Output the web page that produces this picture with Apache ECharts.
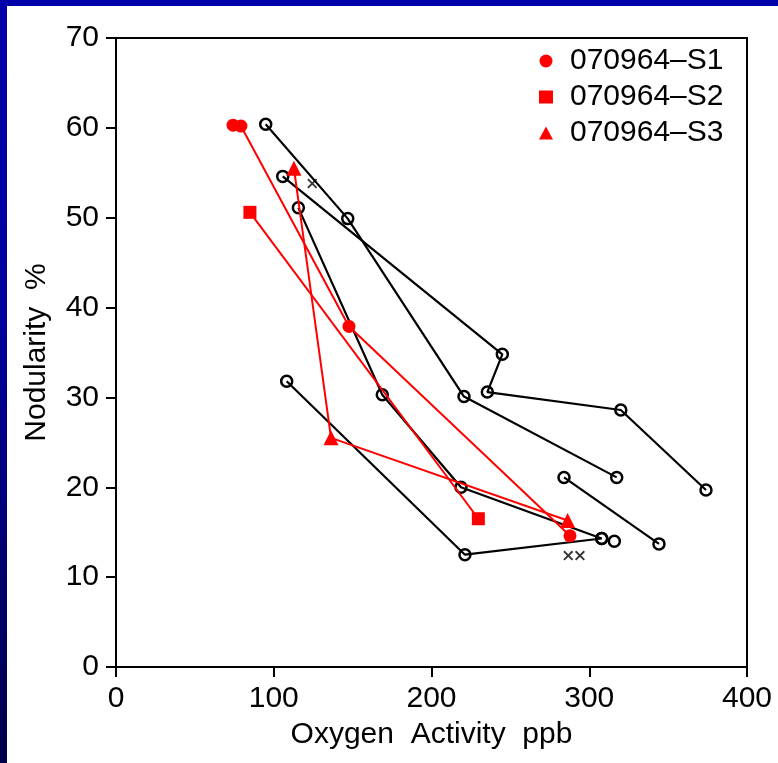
<!DOCTYPE html>
<html>
<head>
<meta charset="utf-8">
<script src="https://cdn.jsdelivr.net/npm/echarts@6/dist/echarts.min.js"></script>
<style>
  html, body { margin: 0; padding: 0; }
  body {
    width: 778px; height: 763px; overflow: hidden; position: relative;
    background: linear-gradient(to bottom, #0000aa 0%, #0000a0 40%, #00004a 100%);
  }
  .top-band { position: absolute; left: 0; top: 0; width: 778px; height: 6px; background: #0000aa; }
  #chart { position: absolute; left: 7px; top: 6px; width: 771px; height: 757px; background: #ffffff; }
</style>
</head>
<body>
<div class="top-band"></div>
<div id="chart"></div>
<script>
// red samples
const s1 = [[74.2, 60.3], [79.2, 60.2], [147.7, 37.9], [287.8, 14.6]];
const s2 = [[84.9, 50.6], [229.7, 16.5]];
const s3 = [[112.8, 55.5], [136.3, 25.5], [286.3, 16.3]];
const seriesNames = ['070964–S1', '070964–S2', '070964–S3'];

// black reference runs (open circles)
const run1 = [[94.9, 60.4], [146.9, 49.9], [220.6, 30.1], [317.4, 21.1]];
const run2 = [[105.7, 54.6], [244.9, 34.8], [235.4, 30.6], [320.0, 28.6], [374.0, 19.7]];
const run3 = [[115.6, 51.1], [168.8, 30.3], [218.7, 20.0], [307.9, 14.3]];
const run4 = [[108.2, 31.8], [221.2, 12.5], [307.9, 14.3]];
const run5 = [[284.0, 21.1], [344.2, 13.7]];
const single = [[315.9, 14.0]];
// black x marks
const crosses = [[124.4, 53.8], [286.7, 12.4], [294.1, 12.4]];

const xTicks = [0, 100, 200, 300, 400];
const yTicks = [0, 10, 20, 30, 40, 50, 60, 70];

const font = 'Liberation Sans, Arial, Helvetica, sans-serif';
const crossPath = 'path://M0,1.3L1.3,0L10,8.7L8.7,10ZM8.7,0L10,1.3L1.3,10L0,8.7Z';

function blackRun(data) {
  return {
    type: 'line',
    data: data,
    symbol: 'circle',
    symbolSize: 11,
    lineStyle: { color: '#000', width: 2.2 },
    itemStyle: { color: 'rgba(0,0,0,0)', borderColor: '#000', borderWidth: 2.5 },
    z: 2
  };
}

function redRun(name, symbol, size, data) {
  return {
    name: name,
    type: 'line',
    data: data,
    symbol: symbol,
    symbolSize: size,
    lineStyle: { color: '#ff0000', width: 2 },
    itemStyle: { color: '#ff0000' },
    z: 3
  };
}

const chart = echarts.init(document.getElementById('chart'));
chart.setOption({
  animation: false,
  textStyle: { fontFamily: font, color: '#000' },
  grid: {
    left: 109, top: 32, width: 631, height: 629,
    show: true, borderColor: '#000', borderWidth: 2, backgroundColor: 'transparent'
  },
  legend: {
    orient: 'vertical',
    left: 527,
    top: 35,
    itemWidth: 14,
    itemHeight: 13,
    itemGap: 6,
    textStyle: { fontSize: 30, color: '#000', fontFamily: font, padding: [0, 0, 0, 12] },
    data: [
      { name: seriesNames[0], icon: 'circle' },
      { name: seriesNames[1], icon: 'rect' },
      { name: seriesNames[2], icon: 'triangle' }
    ]
  },
  xAxis: {
    type: 'value',
    min: xTicks[0],
    max: xTicks[xTicks.length - 1],
    interval: 100,
    name: 'Oxygen  Activity  ppb',
    nameLocation: 'middle',
    nameGap: 53,
    nameTextStyle: { fontSize: 30, color: '#000' },
    axisLine: { lineStyle: { color: '#000', width: 2 } },
    axisTick: { length: 10, lineStyle: { color: '#000', width: 2 } },
    axisLabel: { fontSize: 30, color: '#000', margin: 17 },
    splitLine: { show: false }
  },
  yAxis: {
    type: 'value',
    min: yTicks[0],
    max: yTicks[yTicks.length - 1],
    interval: 10,
    name: 'Nodularity  %',
    nameLocation: 'middle',
    nameGap: 64,
    nameTextStyle: { fontSize: 30, color: '#000' },
    axisLine: { lineStyle: { color: '#000', width: 2 } },
    axisTick: { length: 10, lineStyle: { color: '#000', width: 2 } },
    axisLabel: { fontSize: 30, color: '#000', margin: 17 },
    splitLine: { show: false }
  },
  series: [
    blackRun(run1),
    blackRun(run2),
    blackRun(run3),
    blackRun(run4),
    blackRun(run5),
    blackRun(single),
    {
      type: 'scatter',
      data: crosses,
      symbol: crossPath,
      symbolSize: 10,
      itemStyle: { color: '#000' },
      z: 2
    },
    redRun(seriesNames[0], 'circle', 13, s1),
    redRun(seriesNames[1], 'rect', 13, s2),
    redRun(seriesNames[2], 'triangle', 15, s3)
  ]
});
</script>
</body>
</html>
